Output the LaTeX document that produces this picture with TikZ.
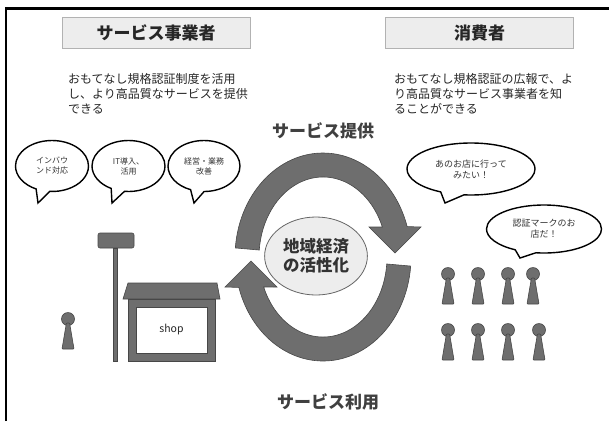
\documentclass[tikz,border=0pt]{standalone}
\usepackage{fontspec}
\setmainfont{Noto Sans CJK JP}
\usetikzlibrary{shapes.geometric}
\usetikzlibrary{shapes.callouts}

\colorlet{solidgray}{black!57}
\colorlet{solidline}{black!72}
\colorlet{inkgray}{black!85}

\tikzset{
  header/.style={draw=black!30, fill=black!7, minimum width=188, minimum height=31,
    font=\fontsize{17}{20}\selectfont\bfseries, text=inkgray},
  blurb/.style={anchor=north west, align=left, inner sep=0pt,
    font=\fontsize{12}{15}\selectfont, text=inkgray},
  caption/.style={font=\fontsize{17}{20}\selectfont\bfseries, text=black!75},
  bubble/.style={ellipse callout, draw=black, line width=1.4, fill=white, inner sep=0pt,
    align=center, callout pointer arc=22, text=black!80},
  solid/.style={fill=solidgray, draw=solidline, line width=0.6},
  cyclearrow/.style={fill=solidgray, draw=solidline, line width=0.6},
  person/.pic={
    \filldraw[solid] (0,0) circle (6.5);
    \filldraw[solid, rounded corners=0.8] (-1.6,4) -- (1.6,4) -- (6,30) -- (-6,30) -- cycle;
  }
}

\begin{document}
\begin{tikzpicture}[x=1pt, y=-1pt]
  \useasboundingbox (0,0) rectangle (609,421);
  \fill[white] (0,0) rectangle (609,421);
  \draw[line width=2.5] (6,421) -- (6,8.5) -- (609,8.5);

  % the two sides
  \node[header] (bizhead) at (156,32.5) {サービス事業者};
  \node[header] (conshead) at (479.5,33) {消費者};
  \node[blurb] (bizdesc) at (68,73) {おもてなし規格認証制度を活用\\し、より高品質なサービスを提供\\できる};
  \node[blurb] (consdesc) at (394,73) {おもてなし規格認証の広報で、よ\\り高品質なサービス事業者を知\\ることができる};

  \node[caption] (provide) at (323,131) {サービス提供};
  \node[caption] (use) at (328,402) {サービス利用};

  % speech bubbles
  \node[bubble, font=\fontsize{8}{10}\selectfont, minimum width=73, minimum height=51,
    callout absolute pointer={(38,203)}] (inbound) at (52,166) {インバウ\\ンド対応};
  \node[bubble, font=\fontsize{8}{10}\selectfont, minimum width=73, minimum height=51,
    callout absolute pointer={(112,203)}] (itdo) at (128.5,166) {IT導入、\\活用};
  \node[bubble, font=\fontsize{8}{10}\selectfont, minimum width=72, minimum height=51,
    callout absolute pointer={(194,203)}] (kaizen) at (204,166) {経営・業務\\改善};
  \node[bubble, font=\fontsize{9}{11}\selectfont, minimum width=128, minimum height=52,
    callout absolute pointer={(445,203)}] (wantgo) at (471,169) {あのお店に行って\\みたい！};
  \node[bubble, font=\fontsize{9}{11}\selectfont, minimum width=115, minimum height=48,
    callout absolute pointer={(520,258)}] (mark) at (544,229) {認証マークのお\\店だ！};

  % cycle of the two arrows
  \begin{scope}[shift={(323,257)}, yscale=-1]
    \foreach \turn in {0,180}
      \filldraw[cyclearrow, rotate=\turn] (175:88 and 104)
        arc[start angle=175, end angle=17, x radius=88, y radius=104]
        -- (98,30) -- (72,4) -- (46,30) -- (22:64 and 80)
        arc[start angle=22, end angle=175, x radius=64, y radius=80] -- cycle;
  \end{scope}
  \node[ellipse, draw=black!60, fill=black!7, line width=0.8, minimum width=100, minimum height=78,
    align=center, font=\fontsize{16.5}{19}\selectfont\bfseries, text=black!80] (hub) at (316,256)
    {地域経済\\の活性化};

  % shop with its sign
  \filldraw[solid, rounded corners=2] (98,233) rectangle (134,248);
  \filldraw[solid] (113,248) rectangle (117,361);
  \filldraw[solid] (128,283) -- (217,283) -- (220,299) -- (123,299) -- cycle;
  \filldraw[solid] (128,299) rectangle (215,361);
  \filldraw[fill=white, draw=solidline] (136,307) rectangle (207,353);
  \node[font=\fontsize{10.5}{12}\selectfont, text=inkgray] (shoptext) at (171.5,330) {shop};

  % people
  \pic at (68,319) {person};
  \foreach \px in {448,478,508,533}
    \pic at (\px,274) {person};
  \foreach \px in {448,478,508,539}
    \pic at (\px,330) {person};
\end{tikzpicture}
\end{document}
